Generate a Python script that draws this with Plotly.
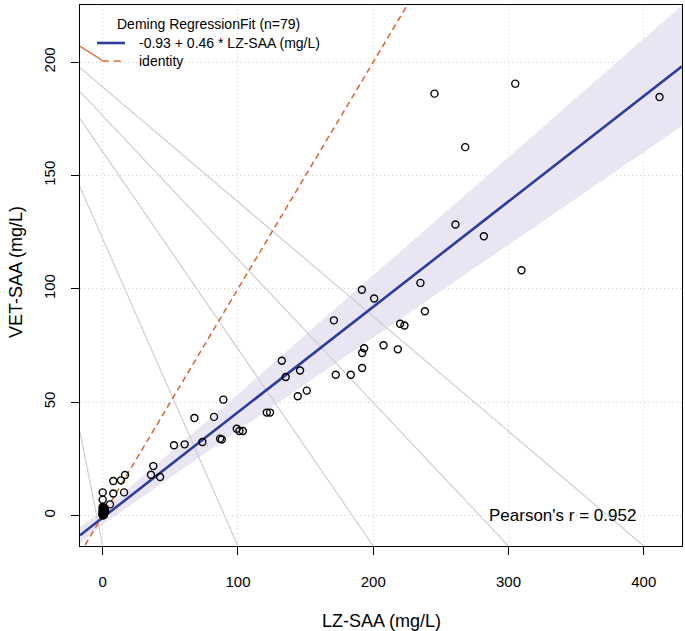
import plotly.graph_objects as go

# ---------------- data ----------------
lz_saa = [
    245.3, 305.0, 268.0, 411.7, 260.8, 281.8, 309.6, 234.9,
    191.6, 200.7, 238.2, 219.9, 223.1, 170.9, 207.6, 218.2, 193.3, 191.8,
    191.8, 172.3, 183.4, 132.4, 145.9, 135.3, 150.9, 144.2,
    89.2, 121.3, 123.7, 67.8, 82.3, 99.1, 101.1, 103.6, 86.8, 88.0,
    73.7, 52.7, 60.6, 37.4, 35.7, 42.4,
    7.8, 13.5, 16.5, 15.8, 7.8, 0.0, 0.0, 5.4,
    0.0, 0.1, 0.2, 0.0, 0.3, 0.5, 0.0, 0.8, 1.0, 0.2, 0.0, 0.4, 1.2, 0.6,
    0.0, 0.1, 0.9, 1.5, 0.3, 0.0, 0.7, 0.2, 1.1, 0.0, 0.4, 0.6, 1.8, 0.1, 0.0,
]
vet_saa = [
    186.1, 190.5, 162.5, 184.6, 128.4, 123.2, 108.2, 102.6,
    99.6, 95.7, 90.1, 84.6, 83.8, 86.1, 75.1, 73.3, 73.8, 71.7,
    65.1, 62.1, 62.1, 68.3, 64.0, 61.1, 55.1, 52.6,
    51.1, 45.4, 45.4, 43.0, 43.5, 38.3, 37.3, 37.3, 33.9, 33.5,
    32.4, 31.0, 31.4, 21.8, 18.0, 17.0,
    15.2, 15.5, 17.9, 10.2, 9.7, 10.2, 7.0, 4.9,
    0.3, 1.2, 2.5, 3.4, 0.8, 1.9, 0.0, 2.8, 1.1, 3.0, 1.6, 0.5, 2.2, 3.6,
    2.4, 0.9, 0.2, 1.4, 3.2, 0.6, 1.7, 2.0, 3.1, 1.0, 2.7, 0.4, 2.1, 1.5, 3.8,
]

fit_intercept = -0.93
fit_slope = 0.4649
n_obs = 79
pearson_r = 0.952

# confidence band of the fit
band_x = [-17, 0, 100, 200, 300, 430]
band_lo = [-12.5, -4.0, 37.5, 78.5, 119.5, 172.5]
band_hi = [-5.0, 2.2, 53.5, 106.0, 158.0, 226.0]

# grey guide lines: value on left border -> tick value on bottom border
guide_y_left = [36.8, 144.9, 175.1, 187.0, 197.5]
guide_x_bottom = [0, 100, 200, 300, 400]
# short orange segment in the upper left corner
orange_seg_x = [-16.8, -0.5]
orange_seg_y = [207.0, 200.8]

x_ticks = [0, 100, 200, 300, 400]
y_ticks = [0, 50, 100, 150, 200]
x_range = [-16.8, 428.3]
y_range = [-13.45, 225.2]

FONT = "Liberation Sans, Arial, sans-serif"
BLUE = "#2E3C9C"
ORANGE = "#E0622A"

# plot area geometry (pixels)
W, H = 685, 631
ML, MR, MT, MB = 80, 3, 5, 85
PW, PH = W - ML - MR, H - MT - MB


def px(xp):
    return (xp - ML) / PW


def py(yp):
    return 1 - (yp - MT) / PH


fig = go.Figure()

# confidence band
fig.add_trace(go.Scatter(
    x=band_x + band_x[::-1], y=band_hi + band_lo[::-1],
    fill="toself", fillcolor="rgb(233,229,243)", line=dict(width=0),
    mode="lines", showlegend=False, hoverinfo="skip"))

# grey guide lines
for yl, xb in zip(guide_y_left, guide_x_bottom):
    fig.add_trace(go.Scatter(
        x=[x_range[0], xb], y=[yl, y_range[0]], mode="lines",
        line=dict(color="#CFCFCF", width=1.2), showlegend=False, hoverinfo="skip"))

fig.add_trace(go.Scatter(
    x=orange_seg_x, y=orange_seg_y, mode="lines",
    line=dict(color=ORANGE, width=1.3), showlegend=False, hoverinfo="skip"))

fit_label = f"{fit_intercept:.2f} + {fit_slope:.2f} * LZ-SAA (mg/L)"

# regression line
fig.add_trace(go.Scatter(
    x=[x_range[0], x_range[1]],
    y=[fit_intercept + fit_slope * x_range[0], fit_intercept + fit_slope * x_range[1]],
    mode="lines", line=dict(color=BLUE, width=2.6),
    name=fit_label, showlegend=False))

# identity line
fig.add_trace(go.Scatter(
    x=[x_range[0], y_range[1]], y=[x_range[0], y_range[1]],
    mode="lines", line=dict(color=ORANGE, width=1.5, dash="6px,4px"),
    name="identity", showlegend=False))

# points
fig.add_trace(go.Scatter(
    x=lz_saa, y=vet_saa, mode="markers",
    marker=dict(symbol="circle-open", size=7, color="black", line=dict(width=1.4)),
    showlegend=False))

# ---- legend (drawn by hand to match the reference layout) ----
fig.add_shape(type="line", xref="paper", yref="paper",
              x0=px(97), x1=px(125), y0=py(43), y1=py(43),
              line=dict(color=BLUE, width=2.6))
fig.add_shape(type="line", xref="paper", yref="paper",
              x0=px(101.7), x1=px(121.7), y0=py(61), y1=py(61),
              line=dict(color=ORANGE, width=1.5, dash="7px,5px"))
legend_font = dict(size=14, color="black", family=FONT)
fig.add_annotation(xref="paper", yref="paper", x=px(115), y=py(24),
                   text=f"Deming RegressionFit (n={n_obs})", showarrow=False,
                   xanchor="left", yanchor="middle", font=legend_font)
fig.add_annotation(xref="paper", yref="paper", x=px(137), y=py(43),
                   text=fit_label, showarrow=False,
                   xanchor="left", yanchor="middle", font=legend_font)
fig.add_annotation(xref="paper", yref="paper", x=px(137), y=py(61),
                   text="identity", showarrow=False,
                   xanchor="left", yanchor="middle", font=legend_font)

fig.add_annotation(x=340, y=0, xref="x", yref="y", text=f"Pearson's r = {pearson_r}",
                   showarrow=False, font=dict(size=17, color="black", family=FONT),
                   xanchor="center", yanchor="middle")

# axis titles
fig.add_annotation(xref="paper", yref="paper", x=0.5, y=py(621),
                   text="LZ-SAA (mg/L)", showarrow=False, xanchor="center", yanchor="middle",
                   font=dict(size=18, color="black", family=FONT))
fig.add_annotation(xref="paper", yref="paper", x=px(16), y=py(272),
                   text="VET-SAA (mg/L)", showarrow=False, xanchor="center", yanchor="middle",
                   textangle=-90, font=dict(size=18, color="black", family=FONT))

axis_common = dict(
    showline=True, mirror=True, linecolor="black", linewidth=1.2,
    ticks="outside", ticklen=8, tickwidth=1.2, tickcolor="black",
    showgrid=True, gridcolor="#D0D0D0", griddash="1px,3px", gridwidth=1,
    zeroline=False, automargin=False,
    tickfont=dict(size=15, color="black", family=FONT),
)

fig.update_layout(
    width=W, height=H,
    margin=dict(l=ML, r=MR, t=MT, b=MB, autoexpand=False),
    paper_bgcolor="white", plot_bgcolor="white",
    font=dict(family=FONT, size=14, color="black"),
    xaxis=dict(range=x_range, tickvals=x_ticks, ticklabelstandoff=14, **axis_common),
    yaxis=dict(range=y_range, tickvals=y_ticks, tickangle=-90, ticklabelstandoff=10,
               **axis_common),
    showlegend=False,
)

fig.write_html("out.html", config={"displayModeBar": False},
               post_script="document.body.style.margin='0';document.body.style.padding='0';")
